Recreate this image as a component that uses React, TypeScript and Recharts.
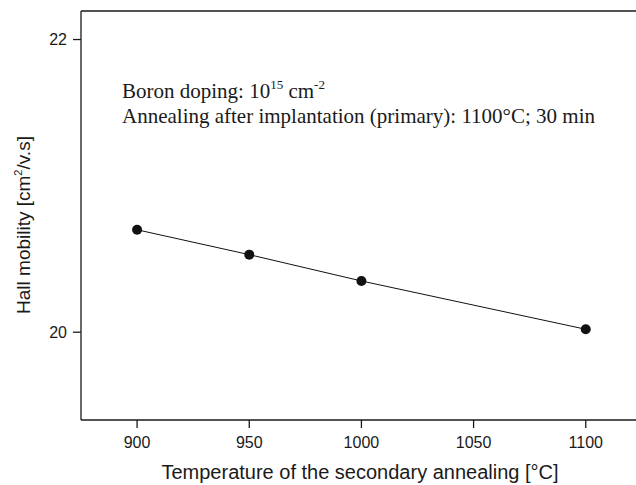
import { CartesianGrid, Label, Line, LineChart, ReferenceLine, XAxis, YAxis } from "recharts"

const temperatures = [900, 950, 1000, 1100]
const mobility = [20.7, 20.53, 20.35, 20.02]
const xTicks = [900, 950, 1000, 1050, 1100]
const yTicks = [20, 22]

const data = temperatures.map((t, i) => ({ temperature: t, mobility: mobility[i] }))

const Y_MAX = 22.195
const axisColor = "#1a1a1a"
const sans = "'Liberation Sans', Arial, sans-serif"
const serif = "'Liberation Serif', 'Times New Roman', serif"

const noteStyle = {
  position: "absolute" as const,
  left: 122,
  fontFamily: serif,
  fontSize: 21,
  lineHeight: "21px",
  color: "#1a1a1a",
  whiteSpace: "nowrap" as const,
}

const supStyle = { fontSize: 13, position: "relative" as const, top: -9 }

export default function App() {
  return (
    <div style={{ position: "absolute", left: 0, top: 0, width: 636, height: 485, background: "#fff" }}>
      <LineChart width={636} height={485} data={data} margin={{ top: 11, right: 0, bottom: 0, left: 0 }}>
        <CartesianGrid stroke="none" />
        <XAxis
          dataKey="temperature"
          type="number"
          domain={[875, 1122.4]}
          ticks={xTicks}
          allowDataOverflow
          height={65}
          tickSize={8}
          tickMargin={9}
          stroke={axisColor}
          strokeWidth={1.3}
          tick={{ fill: axisColor, fontSize: 16, fontFamily: sans }}
        >
          <Label
            content={() => (
              <text x={360} y={479} textAnchor="middle" fill={axisColor} fontSize={20} fontFamily={sans}>
                Temperature of the secondary annealing [°C]
              </text>
            )}
          />
        </XAxis>
        <YAxis
          type="number"
          domain={[19.4, Y_MAX]}
          ticks={yTicks}
          allowDataOverflow
          width={81}
          tickSize={8}
          tickMargin={6}
          stroke={axisColor}
          strokeWidth={1.3}
          tick={{ fill: axisColor, fontSize: 16, fontFamily: sans }}
        >
          <Label
            content={() => (
              <text
                x={30}
                y={225}
                transform="rotate(-90, 30, 225)"
                textAnchor="middle"
                fill={axisColor}
                fontSize={19}
                fontFamily={sans}
              >
                Hall mobility [cm
                <tspan fontSize={11} dy={-8}>2</tspan>
                <tspan dy={8}>/v.s]</tspan>
              </text>
            )}
          />
        </YAxis>
        <ReferenceLine y={Y_MAX} stroke={axisColor} strokeWidth={1.3} />
        <Line
          type="linear"
          dataKey="mobility"
          stroke="#111"
          strokeWidth={1}
          dot={{ r: 5, fill: "#111", stroke: "#111", strokeWidth: 0 }}
          activeDot={false}
          isAnimationActive={false}
        />
      </LineChart>
      <div style={{ ...noteStyle, top: 81 }}>
        Boron doping: 10<span style={supStyle}>15</span> cm<span style={supStyle}>-2</span>
      </div>
      <div style={{ ...noteStyle, top: 106 }}>Annealing after implantation (primary): 1100°C; 30 min</div>
    </div>
  )
}
